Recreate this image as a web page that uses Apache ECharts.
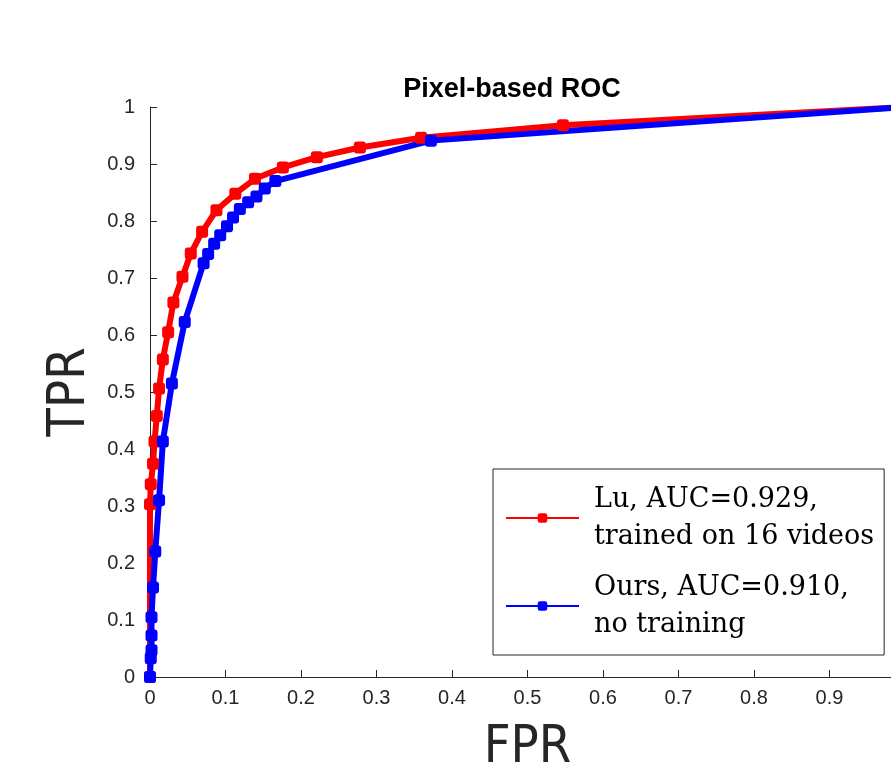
<!DOCTYPE html>
<html>
<head>
<meta charset="utf-8">
<script src="https://cdn.jsdelivr.net/npm/echarts@6/dist/echarts.min.js"></script>
<style>
  html, body { margin: 0; padding: 0; background: #fff; }
  #chart { width: 891px; height: 767px; }
</style>
</head>
<body>
<div id="chart"></div>
<script>
// ROC points
const luFpr = [0, 0.000, 0.001, 0.004, 0.006, 0.009, 0.012, 0.017, 0.024, 0.031, 0.043, 0.054, 0.069, 0.088, 0.113, 0.139, 0.176, 0.221, 0.278, 0.359, 0.547, 1]
const luTpr = [0, 0.303, 0.338, 0.374, 0.413, 0.458, 0.506, 0.557, 0.605, 0.657, 0.702, 0.743, 0.781, 0.819, 0.848, 0.874, 0.894, 0.912, 0.929, 0.946, 0.968, 1]

const oursFpr = [0, 0.001, 0.002, 0.002, 0.002, 0.004, 0.007, 0.012, 0.017, 0.029, 0.046, 0.071, 0.077, 0.085, 0.093, 0.102, 0.110, 0.119, 0.130, 0.141, 0.152, 0.166, 0.372, 1]
const oursTpr = [0, 0.033, 0.047, 0.073, 0.105, 0.157, 0.220, 0.310, 0.413, 0.515, 0.623, 0.726, 0.742, 0.760, 0.775, 0.791, 0.806, 0.821, 0.833, 0.843, 0.857, 0.870, 0.941, 1]

const seriesNames = ['Lu', 'Ours']
const legendLabels = [
  'Lu, AUC=0.929,\ntrained on 16 videos',
  'Ours, AUC=0.910,\nno training'
]

const axisColor = '#262626'
const tickFont = 'Liberation Sans'
const nameFont = "'Liberation Sans Narrow', 'DejaVu Sans Condensed', 'Liberation Sans', sans-serif"

const pairs = (xs, ys) => xs.map((x, i) => [x, ys[i]])
const fmt = v => String(+v.toFixed(1))

const chart = echarts.init(document.getElementById('chart'))

const lineSeries = (name, xs, ys, color) => ({
  name,
  type: 'line',
  data: pairs(xs, ys),
  symbol: 'roundRect',
  symbolSize: 12,
  itemStyle: { color },
  lineStyle: { color, width: 6 },
  animation: false
})

chart.setOption({
  backgroundColor: '#fff',
  title: {
    text: 'Pixel-based ROC',
    left: 507,
    top: 71,
    textAlign: 'center',
    textStyle: { fontFamily: 'Liberation Sans', fontWeight: 'bold', fontSize: 27, color: '#000' }
  },
  grid: { left: 150, top: 107, right: -14, bottom: 90, outerBoundsMode: 'none' },
  xAxis: {
    type: 'value',
    min: 0,
    max: 1,
    interval: 0.1,
    name: 'FPR',
    nameLocation: 'middle',
    nameGap: 45,
    nameTextStyle: { fontFamily: nameFont, fontSize: 52, color: axisColor },
    axisLine: { lineStyle: { color: axisColor, width: 1 } },
    axisTick: { inside: true, length: 7, lineStyle: { color: axisColor } },
    axisLabel: { formatter: fmt, margin: 11, fontFamily: tickFont, fontSize: 20, color: axisColor },
    splitLine: { show: false }
  },
  yAxis: {
    type: 'value',
    min: 0,
    max: 1,
    interval: 0.1,
    name: 'TPR',
    nameLocation: 'middle',
    nameGap: 46,
    nameRotate: 90,
    nameTextStyle: { fontFamily: nameFont, fontSize: 52, color: axisColor },
    axisLine: { lineStyle: { color: axisColor, width: 1 } },
    axisTick: { inside: true, length: 7, lineStyle: { color: axisColor } },
    axisLabel: { formatter: fmt, margin: 15, fontFamily: tickFont, fontSize: 20, color: axisColor },
    splitLine: { show: false }
  },
  legend: {
    orient: 'vertical',
    left: 493,
    top: 469,
    padding: [12, 10, 12, 12],
    itemGap: 14,
    itemWidth: 73,
    itemHeight: 12,
    backgroundColor: '#fff',
    borderColor: axisColor,
    borderWidth: 1,
    borderRadius: 0,
    data: seriesNames,
    formatter: name => legendLabels[seriesNames.indexOf(name)],
    textStyle: { fontFamily: 'DejaVu Serif', fontSize: 27, lineHeight: 37, color: '#000', padding: [0, 0, 0, 10] }
  },
  series: [
    lineSeries(seriesNames[0], luFpr, luTpr, '#ff0000'),
    lineSeries(seriesNames[1], oursFpr, oursTpr, '#0000ff')
  ]
})

window.addEventListener('resize', () => chart.resize())
</script>
</body>
</html>
